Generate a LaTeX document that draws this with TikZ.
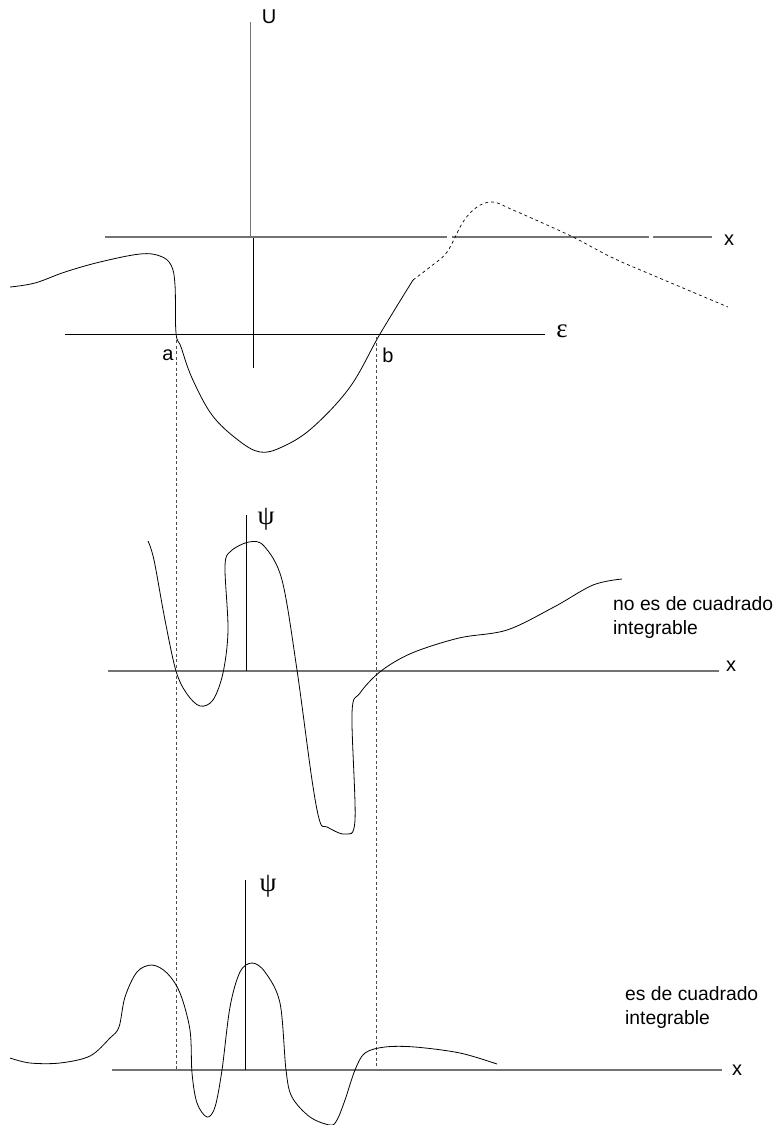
\documentclass[tikz,border=0pt]{standalone}
\usepackage{fontspec}
\setmainfont{Liberation Sans}
\newfontfamily\grk{Liberation Serif}
\definecolor{axisgray}{rgb}{0.45,0.45,0.45}
\begin{document}
\begin{tikzpicture}[x=1pt,y=-1pt,
  curve/.style={black,line width=0.8pt,line join=round},
  dcurve/.style={black,line width=0.7pt,dash pattern=on 3pt off 3pt},
  xaxis/.style={axisgray,line width=1.2pt},
  vaxis/.style={black,line width=0.8pt},
  guide/.style={black!70,line width=0.6pt,dash pattern=on 3pt off 2.5pt},
  lbl/.style={inner sep=0pt,font=\fontsize{20}{24}\selectfont},
  glbl/.style={inner sep=0pt,font=\grk\fontsize{27}{30}\selectfont},
  note/.style={inner sep=0pt,anchor=north west,align=left,font=\fontsize{19.3}{24}\selectfont}]
\useasboundingbox (0,0) rectangle (777,1125);
% ---------- top panel: potential ----------
\coordinate (Utop) at (250,22);
\coordinate (Umid) at (250,237);
\coordinate (Ubot) at (253.5,368);
\draw[axisgray,line width=0.9pt] (Utop) -- (Umid);
\draw[vaxis] (253.5,237) -- (Ubot);
\node[lbl] (U) at (269,17) {U};
\coordinate (xa0) at (105,237);
\coordinate (xa1) at (447,237);
\coordinate (xa2) at (452,237);
\coordinate (xa3) at (649,237);
\coordinate (xa4) at (653,237);
\coordinate (xa5) at (712,237);
\draw[xaxis] (xa0) -- (xa1) (xa2) -- (xa3) (xa4) -- (xa5);
\node[lbl] (xt) at (729,240) {x};
\coordinate (e0) at (65,334);
\coordinate (e1) at (545,334);
\draw[vaxis] (e0) -- (e1);
\node[glbl] (eps) at (562,331) {ε};
\node[lbl] (a) at (168,355) {a};
\node[lbl] (b) at (388,355) {b};
\draw[curve] plot[smooth,tension=0.6] coordinates {(10,287) (35,283) (65,272) (100,262) (140,254) (160,256) (171,265) (175,285) (176,333) (181,347) (192,378) (212,415) (238,440) (260,452) (282,447) (312,428) (350,387) (380,334) (413,280)};
\draw[dcurve] plot[smooth,tension=0.6] coordinates {(413,280) (430,267) (447,252) (463,222) (477,207) (493,202) (513,210) (547,225) (575,238) (613,258) (657,277) (728,307)};
% dashed guides
\coordinate (ga) at (176.5,340);
\coordinate (gb) at (376.5,337);
\coordinate (gaend) at (176.5,1070);
\coordinate (gbend) at (376.5,1070);
\draw[guide] (ga) -- (gaend);
\draw[guide] (gb) -- (gbend);
% ---------- middle panel ----------
\coordinate (m0) at (108,671);
\coordinate (m1) at (719,671);
\draw[xaxis] (m0) -- (m1);
\node[lbl] (xm) at (731,666) {x};
\coordinate (pm0) at (246,515);
\coordinate (pm1) at (246,671);
\draw[vaxis] (pm0) -- (pm1);
\node[glbl] (psim) at (266,519) {ψ};
\draw[curve] plot[smooth,tension=0.55] coordinates {(148,541) (154,560) (165,620) (176,671) (187,694) (200,706) (213,700) (223,673) (228,630) (225,566) (231,551) (249,542) (264,546) (282,580) (297,670) (312,780) (320,822) (327,827) (345,834) (355,820) (352,713) (360,693) (381,671) (412,653) (459,638) (507,630) (554,607) (593,585) (622,579)};
\node[note] (t1) at (613,596) {no es de cuadrado\\integrable};
% ---------- bottom panel ----------
\coordinate (b0) at (112,1070);
\coordinate (b1) at (722,1070);
\draw[xaxis] (b0) -- (b1);
\node[lbl] (xb) at (737,1070) {x};
\coordinate (pb0) at (245,880);
\coordinate (pb1) at (245,1070);
\draw[vaxis] (pb0) -- (pb1);
\node[glbl] (psib) at (268,886) {ψ};
\draw[curve] plot[smooth,tension=0.55] coordinates {(10,1058) (30,1063) (60,1063) (90,1056) (110,1038) (119,1027) (125,997) (137,972) (152,965) (167,973) (180,993) (190,1030) (192,1073) (197,1103) (207,1117) (215,1107) (222,1070) (230,1007) (240,972) (252,963) (265,972) (280,1003) (286,1070) (292,1097) (310,1117) (330,1125) (337,1120) (345,1100) (355,1070) (365,1053) (385,1047) (415,1047) (460,1053) (497,1064)};
\node[note] (t2) at (625,986) {es de cuadrado\\integrable};
\end{tikzpicture}
\end{document}
